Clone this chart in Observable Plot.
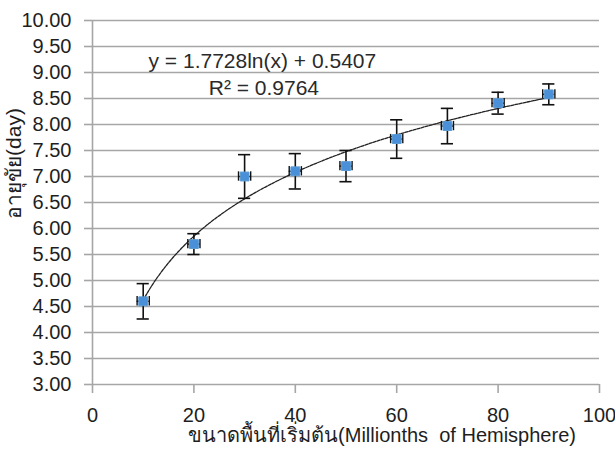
<!DOCTYPE html>
<html>
<head>
<meta charset="utf-8">
<script src="https://cdn.jsdelivr.net/npm/d3@7"></script>
<script src="https://cdn.jsdelivr.net/npm/@observablehq/plot@0.6"></script>
<style>
  html, body { margin: 0; padding: 0; background: #fff; }
  #chart svg { display: block; }
</style>
</head>
<body>
<div id="chart"></div>
<script>
// ---- data ----
const sizes = [10, 20, 30, 40, 50, 60, 70, 80, 90];           // Millionths of Hemisphere
const lifetimes = [4.60, 5.70, 7.00, 7.10, 7.20, 7.72, 7.97, 8.41, 8.58]; // days
const lifetimeErr = [0.34, 0.20, 0.42, 0.34, 0.30, 0.37, 0.34, 0.21, 0.20];
const sizeErr = [1.2, 1.2, 1.2, 1.2, 1.2, 1.2, 1.2, 1.2, 1.2];
const trendCoef = [1.7728, 0.5407]; // y = a ln(x) + b
const rSquared = 0.9764;
const xTicks = [0, 20, 40, 60, 80, 100];
const yTicks = [3, 3.5, 4, 4.5, 5, 5.5, 6, 6.5, 7, 7.5, 8, 8.5, 9, 9.5, 10];
const xTitle = "ขนาดพื้นที่เริ่มต้น(Millionths  of Hemisphere)";
const yTitle = "อายุขัย(day)";
const eqLine1 = `y = ${trendCoef[0]}ln(x) + ${trendCoef[1]}`;
const eqLine2 = `R² = ${rSquared}`;

const data = sizes.map((x, i) => ({x, y: lifetimes[i], e: lifetimeErr[i], ex: sizeErr[i]}));
const trend = d3.range(sizes[0], sizes[sizes.length - 1] + 0.001, 0.5)
  .map(x => ({x, y: trendCoef[0] * Math.log(x) + trendCoef[1]}));

const grid = "#a6a6a6";
const ink = "#1e1e1e";
const font = "'Liberation Sans', Arial, sans-serif";

const chart = Plot.plot({
  width: 615,
  height: 452,
  marginLeft: 92,
  marginRight: 16,
  marginTop: 20,
  marginBottom: 68,
  style: {fontFamily: font, background: "#fff", color: ink},
  x: {domain: [0, 100]},
  y: {domain: [3, 10]},
  marks: [
    Plot.ruleY(yTicks, {y: d => d, x1: 0, x2: 100, stroke: grid, strokeWidth: 1.6}),
    Plot.ruleX([0], {x: d => d, y1: 3, y2: 10, stroke: grid, strokeWidth: 1.6}),
    Plot.axisY(yTicks, {tickSize: 8, tickPadding: 13, tickFormat: d => d.toFixed(2), fontSize: 20,
      stroke: grid, strokeWidth: 1.6, fill: ink, label: null}),
    Plot.axisX(xTicks, {tickSize: 9, tickPadding: 14, tickFormat: d => String(d), fontSize: 20,
      stroke: grid, strokeWidth: 1.6, fill: ink, label: null}),
    // trendline
    Plot.line(trend, {x: "x", y: "y", stroke: "#222", strokeWidth: 1.3, strokeDasharray: "3,1.2"}),
    // vertical error bars
    Plot.ruleX(data, {x: "x", y1: d => d.y - d.e, y2: d => d.y + d.e, stroke: "#111", strokeWidth: 1.6}),
    Plot.ruleY(data, {y: d => d.y + d.e, x1: d => d.x - 1.2, x2: d => d.x + 1.2, stroke: "#111", strokeWidth: 1.6}),
    Plot.ruleY(data, {y: d => d.y - d.e, x1: d => d.x - 1.2, x2: d => d.x + 1.2, stroke: "#111", strokeWidth: 1.6}),
    // horizontal error bars
    Plot.ruleY(data, {y: "y", x1: d => d.x - d.ex, x2: d => d.x + d.ex, stroke: "#111", strokeWidth: 1.4}),
    Plot.ruleX(data, {x: d => d.x - d.ex, y1: d => d.y - 0.09, y2: d => d.y + 0.09, stroke: "#111", strokeWidth: 1.4}),
    Plot.ruleX(data, {x: d => d.x + d.ex, y1: d => d.y - 0.09, y2: d => d.y + 0.09, stroke: "#111", strokeWidth: 1.4}),
    // markers
    Plot.dot(data, {x: "x", y: "y", symbol: "square", r: 5, fill: "#4a90d9", stroke: "#5b9bd5", strokeWidth: 1}),
    // trendline label
    Plot.text([eqLine1], {x: 33.5, y: 9.21, text: d => d, fontSize: 21, fill: "#2a2a2a"}),
    Plot.text([eqLine2], {x: 33.8, y: 8.69, text: d => d, fontSize: 21, fill: "#2a2a2a"}),
    // axis titles
    Plot.text([xTitle], {frameAnchor: "bottom", text: d => d, textAnchor: "middle", dx: 36, dy: 57, fontSize: 20, fill: ink}),
    Plot.text([yTitle], {frameAnchor: "left", text: d => d, textAnchor: "middle", rotate: -90, dx: -78, dy: -39, fontSize: 21, fill: ink})
  ]
});
document.getElementById("chart").append(chart);
</script>
</body>
</html>
